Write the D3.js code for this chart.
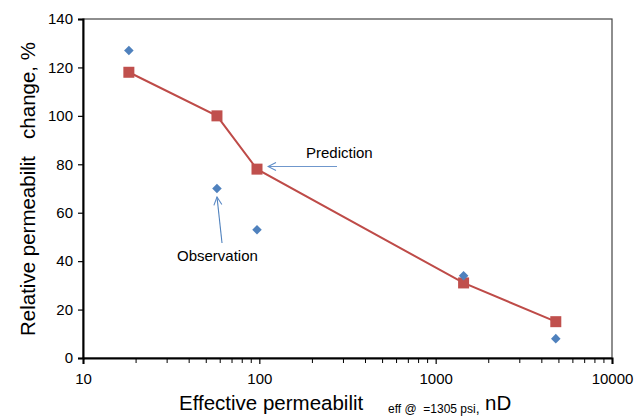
<!doctype html>
<html lang="en">
<head>
<meta charset="utf-8">
<title>Permeability change</title>
<script src="https://cdn.jsdelivr.net/npm/d3@7"></script>
<style>
  body { margin: 0; background: #fff; }
  text { font-family: "Liberation Sans", Arial, sans-serif; fill: #000; }
</style>
</head>
<body>
<script>
// effective permeability (nD) and relative change (%)
var predK   = [18.2, 57.5, 97, 1440, 4800];
var predVal = [118, 100, 78, 31, 15];
var obsK    = [18.2, 57.5, 97, 1440, 4800];
var obsVal  = [127, 70, 53, 34, 8];
var xTicks  = [10, 100, 1000, 10000];
var yTicks  = [0, 20, 40, 60, 80, 100, 120, 140];

var svgW = 644, svgH = 418;
var margin = {top: 19, right: 32, bottom: 60, left: 83};

var svg = d3.select("body").append("svg")
    .attr("width", svgW)
    .attr("height", svgH);

var xScale = d3.scaleLog()
    .domain([10, 10000])
    .range([margin.left, svgW - margin.right]);

var yScale = d3.scaleLinear()
    .domain([0, 140])
    .range([svgH - margin.bottom, margin.top]);

// plot frame
svg.append("rect")
   .attr("x", margin.left)
   .attr("y", margin.top)
   .attr("width", svgW - margin.right - margin.left)
   .attr("height", svgH - margin.bottom - margin.top)
   .attr("fill", "none")
   .attr("stroke", "#444")
   .attr("stroke-width", 1.2);

// minor ticks on log axis
var minor = [];
for (var d = 10; d < 10000; d *= 10) {
    for (var m = 2; m <= 9; m++) minor.push(d * m);
}
svg.append("g").selectAll("line")
   .data(minor)
   .enter().append("line")
   .attr("x1", d => xScale(d)).attr("x2", d => xScale(d))
   .attr("y1", yScale(0)).attr("y2", yScale(0) + 5)
   .attr("stroke", "#000");

var xAxis = d3.axisBottom(xScale)
    .tickValues(xTicks)
    .tickFormat(d3.format("d"))
    .tickSize(6)
    .tickPadding(9);

var yAxis = d3.axisLeft(yScale)
    .tickValues(yTicks)
    .tickSize(5)
    .tickPadding(5);

var gx = svg.append("g")
   .attr("transform", "translate(0," + yScale(0) + ")")
   .call(xAxis);
var gy = svg.append("g")
   .attr("transform", "translate(" + margin.left + ",0)")
   .call(yAxis);

[gx, gy].forEach(function(g) {
    g.select(".domain").attr("stroke", "#000").attr("stroke-width", 2);
    g.selectAll(".tick line").attr("stroke", "#000").attr("stroke-width", 1.2);
    g.selectAll(".tick text").attr("font-size", 15).attr("fill", "#000")
     .attr("font-family", "Liberation Sans, Arial, sans-serif");
});

// prediction line
var line = d3.line()
    .x((d, i) => xScale(predK[i]))
    .y(d => yScale(d));

svg.append("path")
   .datum(predVal)
   .attr("d", line)
   .attr("fill", "none")
   .attr("stroke", "#be4b48")
   .attr("stroke-width", 2);

svg.selectAll(".pred")
   .data(predVal)
   .enter().append("rect")
   .attr("class", "pred")
   .attr("x", (d, i) => xScale(predK[i]) - 5.5)
   .attr("y", d => yScale(d) - 5.5)
   .attr("width", 11)
   .attr("height", 11)
   .attr("fill", "#c0504d");

svg.selectAll(".obs")
   .data(obsVal)
   .enter().append("path")
   .attr("class", "obs")
   .attr("d", d3.symbol().type(d3.symbolDiamond2).size(58))
   .attr("transform", (d, i) => "translate(" + xScale(obsK[i]) + "," + yScale(d) + ")")
   .attr("fill", "#4f81bd");

// annotations
var defs = svg.append("defs");
defs.append("marker")
    .attr("id", "open")
    .attr("viewBox", "0 0 10 10")
    .attr("refX", 9).attr("refY", 5)
    .attr("markerWidth", 10).attr("markerHeight", 10)
    .attr("markerUnits", "userSpaceOnUse")
    .attr("orient", "auto-start-reverse")
    .append("path")
    .attr("d", "M1,1 L9,5 L1,9")
    .attr("fill", "none")
    .attr("stroke", "#5b8ac6")
    .attr("stroke-width", 1.1);

svg.append("line")
   .attr("x1", 268).attr("y1", 166.5)
   .attr("x2", 337).attr("y2", 166.5)
   .attr("stroke", "#6f97cc")
   .attr("stroke-width", 1.2)
   .attr("marker-start", "url(#open)");

svg.append("text")
   .attr("x", 306).attr("y", 158)
   .attr("font-size", 15)
   .text("Prediction");

svg.append("line")
   .attr("x1", 217).attr("y1", 197)
   .attr("x2", 222).attr("y2", 243)
   .attr("stroke", "#4f81bd")
   .attr("stroke-width", 1.1)
   .attr("marker-start", "url(#open)");

svg.append("text")
   .attr("x", 177).attr("y", 261)
   .attr("font-size", 15)
   .text("Observation");

// axis titles
var xt = svg.append("text")
   .attr("x", 179).attr("y", 410)
   .attr("font-size", 20.5)
   .attr("xml:space", "preserve");
xt.append("tspan").text("Effective permeabilit");
xt.append("tspan").attr("x", 388).attr("font-size", 12).attr("dy", 3).text("eff @  =1305 psi");
xt.append("tspan").attr("font-size", 14).text(",");
xt.append("tspan").attr("x", 485).attr("dy", -3).text("nD");

svg.append("text")
   .attr("transform", "translate(35,189) rotate(-90)")
   .attr("text-anchor", "middle")
   .attr("font-size", 20.5)
   .attr("xml:space", "preserve")
   .text("Relative permeabilit   change, %");
</script>
</body>
</html>
